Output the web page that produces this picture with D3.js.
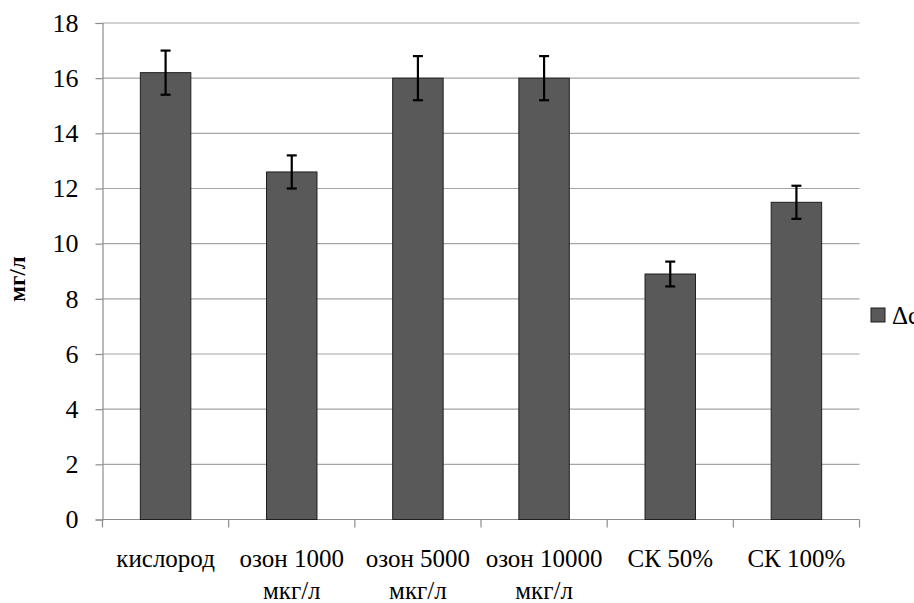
<!DOCTYPE html>
<html>
<head>
<meta charset="utf-8">
<script src="https://cdn.jsdelivr.net/npm/d3@7"></script>
<style>
  html, body { margin: 0; padding: 0; background: #fff; }
  svg { display: block; }
</style>
</head>
<body>
<svg id="chart" width="914" height="603"></svg>
<script>
// Categories (two-line labels) and measured values, mg/l
const categories = ["кислород", "озон 1000 мкг/л", "озон 5000 мкг/л", "озон 10000 мкг/л", "СК 50%", "СК 100%"];
const labelLines = [["кислород"], ["озон 1000", "мкг/л"], ["озон 5000", "мкг/л"], ["озон 10000", "мкг/л"], ["СК 50%"], ["СК 100%"]];
const values = [16.2, 12.6, 16.0, 16.0, 8.9, 11.5];
const errors = [0.8, 0.6, 0.8, 0.8, 0.45, 0.6];
const yTicks = [0, 2, 4, 6, 8, 10, 12, 14, 16, 18];
const seriesName = "Δс";

const FONT = "'Liberation Serif', 'Times New Roman', 'DejaVu Serif', serif";
const svg = d3.select("#chart").style("font-family", FONT).attr("font-family", FONT);
const plotLeft = 102.5, plotRight = 859.5, plotTop = 23, plotBottom = 519.5;

const x = d3.scaleBand().domain(categories).range([plotLeft, plotRight])
  .paddingInner(0.6).paddingOuter(0.3);
const y = d3.scaleLinear().domain([0, 18]).range([plotBottom, plotTop]);

// horizontal gridlines
svg.append("g").selectAll("line").data(yTicks.filter(d => d > 0)).join("line")
  .attr("x1", plotLeft).attr("x2", plotRight)
  .attr("y1", d => y(d)).attr("y2", d => y(d))
  .attr("stroke", "#a6a6a6").attr("stroke-width", 1.2);

// y axis
const yAxis = svg.append("g").attr("transform", `translate(${plotLeft},0)`)
  .call(d3.axisLeft(y).tickValues(yTicks).tickSize(7).tickPadding(17).tickFormat(d3.format("d")));
yAxis.attr("font-family", FONT);
yAxis.select(".domain").attr("stroke", "#8c8c8c").attr("stroke-width", 1.2);
yAxis.selectAll(".tick line").attr("stroke", "#8c8c8c").attr("stroke-width", 1.2);
yAxis.selectAll(".tick text").attr("font-size", 26).attr("fill", "#000")
  .style("font-family", FONT);

// x axis with tick marks at category boundaries
const boundaries = d3.range(categories.length + 1).map(i => plotLeft + i * (plotRight - plotLeft) / categories.length);
svg.append("line").attr("x1", plotLeft).attr("x2", plotRight).attr("y1", plotBottom).attr("y2", plotBottom)
  .attr("stroke", "#8c8c8c").attr("stroke-width", 1.2);
svg.append("g").selectAll("line").data(boundaries).join("line")
  .attr("x1", d => d).attr("x2", d => d).attr("y1", plotBottom).attr("y2", plotBottom + 8)
  .attr("stroke", "#8c8c8c").attr("stroke-width", 1.2);

// bars
svg.append("g").selectAll("rect").data(values).join("rect")
  .attr("x", (d, i) => x(categories[i]))
  .attr("width", x.bandwidth())
  .attr("y", d => y(d))
  .attr("height", d => y(0) - y(d))
  .attr("fill", "#595959").attr("stroke", "#1f1f1f").attr("stroke-width", 1);

// error bars
const eb = svg.append("g").attr("stroke", "#000").attr("stroke-width", 2.2);
values.forEach((v, i) => {
  const cx = x(categories[i]) + x.bandwidth() / 2;
  const y1 = y(v + errors[i]), y2 = y(v - errors[i]);
  eb.append("line").attr("x1", cx).attr("x2", cx).attr("y1", y1).attr("y2", y2);
  eb.append("line").attr("x1", cx - 5).attr("x2", cx + 5).attr("y1", y1).attr("y2", y1);
  eb.append("line").attr("x1", cx - 5).attr("x2", cx + 5).attr("y1", y2).attr("y2", y2);
});

// category labels
const lab = svg.append("g");
labelLines.forEach((lines, i) => {
  const cx = x(categories[i]) + x.bandwidth() / 2;
  lines.forEach((t, j) => {
    lab.append("text").attr("x", cx).attr("y", 567 + j * 32)
      .style("font-family", FONT).attr("text-anchor", "middle").attr("font-size", 25).text(t);
  });
});

// y axis title
svg.append("text").attr("transform", "translate(24.5,279) rotate(-90)")
  .style("font-family", FONT).attr("text-anchor", "middle").attr("font-size", 23)
  .attr("font-weight", "bold").text("мг/л");

// legend
svg.append("rect").attr("x", 871).attr("y", 308).attr("width", 14).attr("height", 14)
  .attr("fill", "#595959").attr("stroke", "#1f1f1f").attr("stroke-width", 1);
svg.append("text").attr("x", 892).attr("y", 324).style("font-family", FONT)
  .attr("font-size", 25).text(seriesName);
</script>
</body>
</html>
